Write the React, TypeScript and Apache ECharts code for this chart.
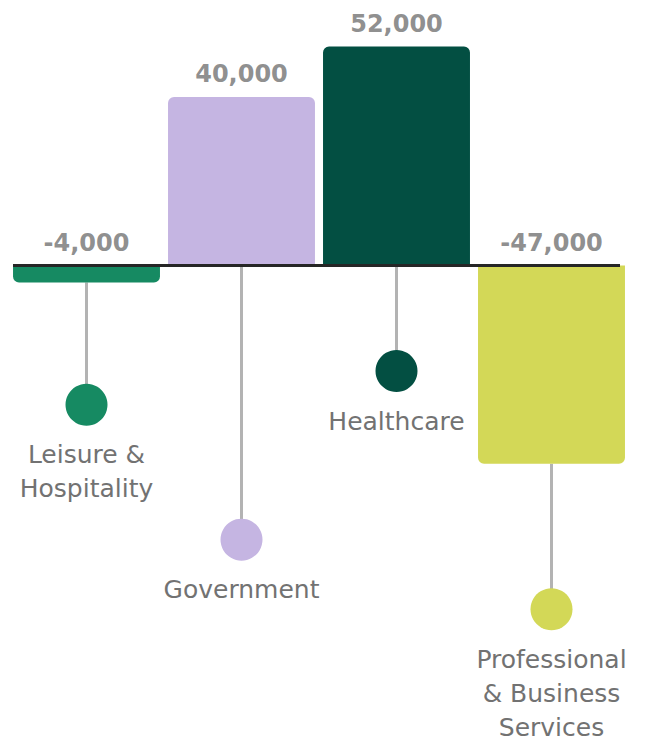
import React, { useEffect, useRef } from "react";
import * as echarts from "echarts";

const categories = ["Leisure & Hospitality", "Government", "Healthcare", "Professional & Business Services"];
const categoryLabels = ["Leisure &\nHospitality", "Government", "Healthcare", "Professional\n& Business\nServices"];
const jobChange = [-4000, 40000, 52000, -47000];
const barColors = ["#168a62", "#c5b5e2", "#034f42", "#d3d857"];
// lollipop end positions (in axis units) where the category marker sits
const markerDepth = [-33000, -65000, -25000, -81500];

const fmt = (v: number) => (v < 0 ? "-" : "") + Math.abs(v).toLocaleString("en-US");

export default function App() {
  const ref = useRef<HTMLDivElement>(null);
  useEffect(() => {
    if (!ref.current) return;
    const chart = echarts.init(ref.current, null, { renderer: "svg" });
    chart.setOption({
      animation: false,
      backgroundColor: "#ffffff",
      grid: { left: 9, right: 21, top: 0, bottom: 0 },
      xAxis: {
        type: "category",
        data: categories,
        axisLine: { show: false },
        axisTick: { show: false },
        axisLabel: { show: false },
      },
      yAxis: {
        type: "value",
        min: -113000,
        max: 63000,
        splitLine: { show: false },
        axisLine: { show: false },
        axisTick: { show: false },
        axisLabel: { show: false },
      },
      series: [
        {
          type: "custom",
          z: 1,
          renderItem: (params: any, api: any) => {
            const i = params.dataIndex;
            const p0 = api.coord([i, Math.min(jobChange[i], 0)]);
            const p1 = api.coord([i, markerDepth[i]]);
            return {
              type: "line",
              shape: { x1: p0[0], y1: p0[1], x2: p1[0], y2: p1[1] },
              style: { stroke: "#b3b3b3", lineWidth: 3 },
            };
          },
          data: categories.map((_, i) => [i, markerDepth[i]]),
        },
        {
          type: "bar",
          z: 2,
          barCategoryGap: "5.2%",
          data: jobChange.map((v, i) => ({
            value: v,
            itemStyle: {
              color: barColors[i],
              borderRadius: v >= 0 ? [6, 6, 0, 0] : [0, 0, 6, 6],
            },
          })),
        },
        {
          type: "scatter",
          z: 3,
          symbolSize: 42,
          data: markerDepth.map((d, i) => ({
            value: [i, d],
            itemStyle: { color: barColors[i], opacity: 1 },
            label: {
              show: true,
              position: "bottom",
              distance: 12,
              formatter: categoryLabels[i],
              fontFamily: "DejaVu Sans",
              fontSize: 25,
              lineHeight: 34,
              color: "#727272",
              align: "center",
            },
          })),
        },
        {
          type: "scatter",
          z: 5,
          symbolSize: 1,
          itemStyle: { color: "rgba(0,0,0,0)" },
          data: jobChange.map((v, i) => ({
            value: [i, Math.max(v, 0)],
            label: {
              show: true,
              position: "top",
              distance: 10,
              formatter: fmt(v),
              fontFamily: "DejaVu Sans",
              fontWeight: "bold",
              fontSize: 24,
              color: "#727272",
            },
          })),
        },
        {
          type: "custom",
          z: 6,
          renderItem: (params: any, api: any) => {
            const a = api.coord([0, 0]);
            const b = api.coord([categories.length - 1, 0]);
            const half = api.size([1, 0])[0] / 2;
            return {
              type: "line",
              shape: { x1: a[0] - half + 4, y1: a[1], x2: b[0] + half - 9, y2: b[1] },
              style: { stroke: "#262626", lineWidth: 3 },
            };
          },
          data: [[0, 0]],
        },
      ],
    });
    return () => chart.dispose();
  }, []);
  return (
    <div
      ref={ref}
      style={{ position: "absolute", left: 0, top: 0, width: 650, height: 742 }}
    />
  );
}
